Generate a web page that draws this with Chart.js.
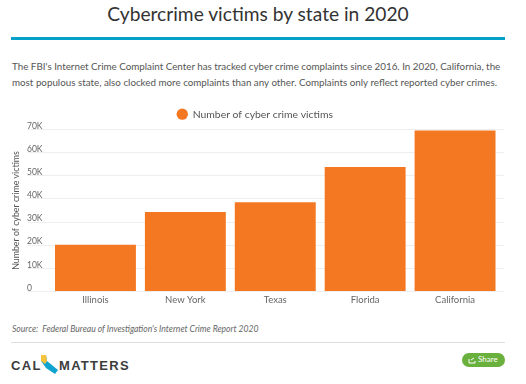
<!DOCTYPE html>
<html>
<head>
<meta charset="utf-8">
<script src="https://cdn.jsdelivr.net/npm/chart.js@4/dist/chart.umd.min.js"></script>
<style>
    html, body { margin: 0; padding: 0; background: #fff; overflow: hidden; }
    body { width: 526px; height: 384px; position: relative; font-family: Lato, sans-serif; color: #555; }
    #title { position: absolute; left: 0; top: 0; width: 516px; text-align: center; font-size: 19.2px; line-height: 28px; color: #333; }
    #rule { position: absolute; left: 11px; top: 37px; width: 494px; height: 3px; background: #05a0c8; }
    #intro { position: absolute; left: 12px; top: 58px; width: 494px; font-size: 9.8px; line-height: 16px; color: #555; white-space: nowrap; }
    #wrap { position: absolute; left: 0; top: 96px; width: 514px; height: 213px; }
    #source { position: absolute; left: 12px; top: 323px; font-size: 8.6px; line-height: 12px; font-style: italic; color: #666; white-space: nowrap; }
    #line { position: absolute; left: 11px; top: 342px; width: 494px; height: 1px; background: #ddd; }
    .logo { position: absolute; top: 358px; font-family: "Liberation Sans", sans-serif; font-weight: 700; font-size: 13px; line-height: 15px; letter-spacing: 1.3px; color: #3c3c3c; }
    #mark { position: absolute; left: 40px; top: 355px; }
    #share { position: absolute; left: 462px; top: 353px; width: 43px; height: 14px; border-radius: 7px; background: #6ab03c; color: #fff; font-size: 8px; line-height: 13px; text-indent: 16px; }
    #share svg { position: absolute; left: 6px; top: 3px; }
</style>
</head>
<body>
<div id="title">Cybercrime victims by state in 2020</div>
<div id="rule"></div>
<div id="intro">The FBI's Internet Crime Complaint Center has tracked cyber crime complaints since 2016. In 2020, California, the<br>most populous state, also clocked more complaints than any other. Complaints only reflect reported cyber crimes.</div>
<div id="wrap"><canvas id="chart"></canvas></div>
<div id="source">Source:&nbsp; Federal Bureau of Investigation's Internet Crime Report 2020</div>
<div id="line"></div>
<div class="logo" style="left:11px">CAL</div>
<svg id="mark" width="19" height="20" viewBox="0 0 19 20"><path d="M1 0h5l1 6 11 9-3 4-9-6-5-7z" fill="#10a3cf"/><path d="M1 0h5l1 6-2 3-4-3z" fill="#f7c23c"/></svg>
<div class="logo" style="left:59px">MATTERS</div>
<div id="share"><svg width="8" height="8" viewBox="0 0 8 8"><path d="M1 3v4h6V5M3 4l3-2" fill="none" stroke="#fff" stroke-width="1"/></svg>Share</div>

<script>
var categories = ['Illinois', 'New York', 'Texas', 'Florida', 'California']
var victims = [20200, 34400, 38600, 53800, 69500]
var tickLabels = ['0', '10K', '20K', '30K', '40K', '50K', '60K', '70K']
var seriesName = 'Number of cyber crime victims'

Chart.defaults.font.family = 'Lato, sans-serif'
Chart.defaults.color = '#666'

var ctx = document.getElementById('chart');
var myChart = new Chart(ctx, {
    type: 'bar',
    data: {
        labels: categories,
        datasets: [{
            label: seriesName,
            data: victims,
            backgroundColor: '#f47721',
            barPercentage: 0.9,
            categoryPercentage: 1
        }]
    },
    options: {
        responsive: true,
        maintainAspectRatio: false,
        animation: false,
        layout: { padding: { top: 3, right: 10, bottom: 0, left: 6 } },
        plugins: {
            tooltip: { enabled: false },
            legend: {
                position: 'top',
                labels: {
                    usePointStyle: true,
                    pointStyle: 'circle',
                    boxHeight: 8,
                    padding: 10,
                    color: '#555',
                    font: { size: 10.4 }
                }
            }
        },
        scales: {
            x: {
                grid: { display: false, drawTicks: false },
                border: { display: false },
                ticks: { color: '#666', font: { size: 9.5 }, padding: 3 }
            },
            y: {
                min: 0,
                max: 70000,
                border: { display: false },
                grid: { color: '#eeeeee', tickColor: '#eeeeee', tickLength: 23 },
                title: { display: true, text: 'Number of cyber crime victims', color: '#555', font: { size: 8.8 }, padding: { top: 5, bottom: 0 } },
                ticks: {
                    stepSize: 10000,
                    mirror: true,
                    padding: -23.5,
                    labelOffset: -3.5,
                    color: '#666',
                    font: { size: 8.5 },
                    callback: function(value, index){ return tickLabels[index] }
                },
                afterFit: function(scale){ scale.width = 44.5 }
            },
            yRight: {
                position: 'right',
                min: 0,
                max: 70000,
                border: { display: false },
                grid: { drawOnChartArea: false, tickColor: '#eeeeee', tickLength: 4 },
                ticks: { stepSize: 10000, display: false },
                afterFit: function(scale){ scale.width = 4 }
            }
        }
    }
});
</script>
</body>
</html>
